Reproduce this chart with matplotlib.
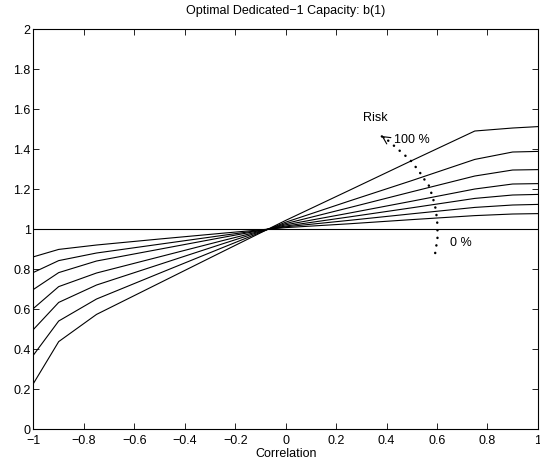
import matplotlib
matplotlib.use("Agg")
import matplotlib.pyplot as plt
import numpy as np

plt.rcParams['font.family'] = ['Liberation Sans', 'DejaVu Sans']
plt.rcParams['font.size'] = 9

correlation = [-1, -0.9, -0.75, -0.5, -0.25, 0, 0.25, 0.5, 0.75, 0.9, 1]

# curves from highest risk (100 %) to lowest
capacity_curves = [
    [0.228, 0.437, 0.573, 0.730, 0.887, 1.043, 1.192, 1.342, 1.490, 1.505, 1.512],
    [0.370, 0.540, 0.650, 0.779, 0.907, 1.034, 1.139, 1.242, 1.348, 1.385, 1.388],
    [0.498, 0.633, 0.720, 0.823, 0.926, 1.027, 1.106, 1.186, 1.265, 1.295, 1.297],
    [0.603, 0.712, 0.780, 0.861, 0.942, 1.021, 1.079, 1.139, 1.200, 1.225, 1.227],
    [0.698, 0.782, 0.840, 0.899, 0.958, 1.015, 1.060, 1.106, 1.153, 1.170, 1.173],
    [0.783, 0.842, 0.880, 0.924, 0.968, 1.011, 1.043, 1.076, 1.108, 1.120, 1.123],
    [0.861, 0.898, 0.920, 0.950, 0.979, 1.007, 1.026, 1.047, 1.067, 1.075, 1.077],
]
baseline = [1.0] * len(correlation)

# dotted risk arrow path
arrow_x = [0.593, 0.602, 0.602, 0.596, 0.583, 0.567, 0.547, 0.530, 0.494, 0.401, 0.375]
arrow_y = [0.880, 0.953, 1.020, 1.095, 1.160, 1.220, 1.253, 1.287, 1.345, 1.448, 1.468]

fig = plt.figure(figsize=(5.4, 4.65), dpi=100)
ax = fig.add_axes([0.062, 0.0774, 0.934, 0.8602])

ax.plot(correlation, baseline, color='black', lw=0.8)
for c in capacity_curves:
    ax.plot(correlation, c, color='black', lw=0.8)

ax.plot(arrow_x, arrow_y, color='black', lw=1.8, linestyle=(0, (0.05, 3.0)),
        dash_capstyle='round')
ax.annotate('', xy=(0.371, 1.473), xytext=(0.401, 1.448),
            arrowprops=dict(arrowstyle='->,head_length=0.6,head_width=0.3',
                            color='black', lw=0.8))

ax.text(0.355, 1.555, 'Risk', ha='center', va='center')
ax.text(0.428, 1.445, '100 %', ha='left', va='center')
ax.text(0.653, 0.93, '0 %', ha='left', va='center')

ax.set_xlim(-1, 1)
ax.set_ylim(0, 2)
ax.set_xticks(np.round(np.arange(-1, 1.01, 0.2), 1))
ax.set_yticks(np.round(np.arange(0, 2.01, 0.2), 1))
ax.set_xticklabels(['−1', '−0.8', '−0.6', '−0.4', '−0.2', '0', '0.2', '0.4', '0.6', '0.8', '1'])
ax.set_yticklabels(['0', '0.2', '0.4', '0.6', '0.8', '1', '1.2', '1.4', '1.6', '1.8', '2'])
ax.tick_params(direction='in', top=True, right=True, length=4, width=0.6)
ax.tick_params(axis='x', pad=4)
ax.tick_params(axis='y', pad=2)
for s in ax.spines.values():
    s.set_linewidth(0.8)

ax.set_title('Optimal Dedicated−1 Capacity: b(1)', fontsize=9, pad=11)
ax.set_xlabel('Correlation', labelpad=1)

fig.savefig('out.png', dpi=100)
